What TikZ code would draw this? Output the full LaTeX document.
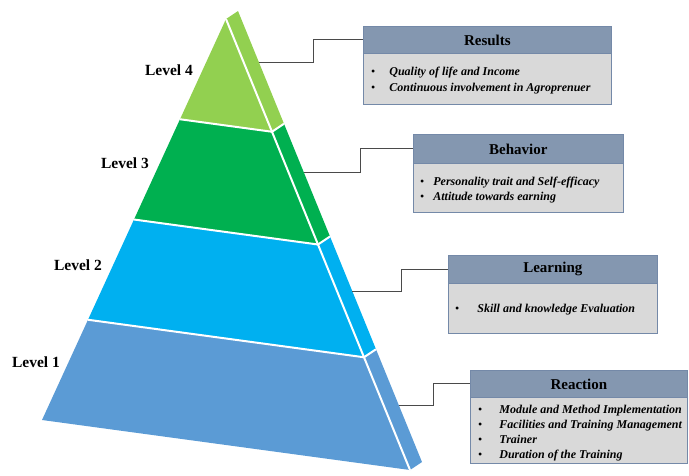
\documentclass[tikz,border=0pt]{standalone}
\usepackage{fontspec}
\setmainfont{Liberation Serif}
\usetikzlibrary{calc}

\definecolor{lvlA}{HTML}{5B9BD5}
\definecolor{lvlB}{HTML}{00B0F0}
\definecolor{lvlC}{HTML}{00B050}
\definecolor{lvlD}{HTML}{92D050}
\definecolor{hdr}{HTML}{8497B0}
\definecolor{bodyfill}{HTML}{D9D9D9}
\definecolor{edge}{HTML}{7489A8}
\definecolor{wire}{HTML}{4A4A4A}

\tikzset{
  sep/.style={white, line width=2pt, line join=round},
  conn/.style={wire, line width=0.9pt},
  hbox/.style={draw=edge, line width=0.8pt, fill=hdr, anchor=north west, inner sep=0pt,
    font=\fontsize{15}{18}\selectfont\bfseries},
  bbox/.style={draw=edge, line width=0.8pt, fill=bodyfill, anchor=north west, inner sep=0pt},
  items/.style={anchor=west, inner sep=0pt, align=left,
    font=\fontsize{12}{15.5}\selectfont\bfseries\itshape},
  lvl/.style={font=\fontsize{15.5}{18}\selectfont\bfseries}
}

\newcommand{\blt}{{\normalfont\textbullet}}

\begin{document}
\begin{tikzpicture}[x=1pt,y=-1pt]
\useasboundingbox (0,0) rectangle (689,475);

% pyramid corners: front face and the offset side strip
\coordinate (A) at (226,19);
\coordinate (L) at (42,420);
\coordinate (R) at (410,470);
\coordinate (Ad) at (238,11);
\coordinate (Rd) at (422,462);
\foreach \k/\t in {1/0.25,2/0.5,3/0.75}{
  \coordinate (L\k) at ($(A)!\t!(L)$);
  \coordinate (R\k) at ($(A)!\t!(R)$);
  \coordinate (S\k) at ($(Ad)!\t!(Rd)$);
}

% front face layers
\fill[lvlD] (A) -- (L1) -- (R1) -- cycle;
\fill[lvlC] (L1) -- (L2) -- (R2) -- (R1) -- cycle;
\fill[lvlB] (L2) -- (L3) -- (R3) -- (R2) -- cycle;
\fill[lvlA] (L3) -- (L) -- (R) -- (R3) -- cycle;
% side strip layers
\fill[lvlD] (A) -- (Ad) -- (S1) -- (R1) -- cycle;
\fill[lvlC] (R1) -- (S1) -- (S2) -- (R2) -- cycle;
\fill[lvlB] (R2) -- (S2) -- (S3) -- (R3) -- cycle;
\fill[lvlA] (R3) -- (S3) -- (Rd) -- (R) -- cycle;

% white separators
\draw[sep] (A) -- (R);
\draw[sep] (L1) -- (R1) -- (S1);
\draw[sep] (L2) -- (R2) -- (S2);
\draw[sep] (L3) -- (R3) -- (S3);

% level labels
\node[lvl] (lv4) at (169,70) {Level 4};
\node[lvl] (lv3) at (125,163) {Level 3};
\node[lvl] (lv2) at (78,265) {Level 2};
\node[lvl] (lv1) at (36,362) {Level 1};

% Results
\node[hbox, minimum width=248pt, minimum height=27pt] (resH) at (363,26) {Results};
\node[bbox, minimum width=248pt, minimum height=51pt] (resB) at (363,53) {};
\node[items] (resT) at (371,80.5) {\begin{tabular}{@{}l@{\hspace{14pt}}l@{}}
\blt & Quality of life and Income\\
\blt & Continuous involvement in Agroprenuer\end{tabular}};

% Behavior
\node[hbox, minimum width=210pt, minimum height=29pt] (behH) at (413,134) {Behavior};
\node[bbox, minimum width=210pt, minimum height=49pt] (behB) at (413,163) {};
\node[items] (behT) at (420,190) {\begin{tabular}{@{}l@{\hspace{9pt}}l@{}}
\blt & Personality trait and Self-efficacy\\
\blt & Attitude towards earning\end{tabular}};

% Learning
\node[hbox, minimum width=209pt, minimum height=28pt] (lrnH) at (448,255) {Learning};
\node[bbox, minimum width=209pt, minimum height=50pt] (lrnB) at (448,283) {};
\node[items] (lrnT) at (455,309) {\begin{tabular}{@{}l@{\hspace{18pt}}l@{}}
\blt & Skill and knowledge Evaluation\end{tabular}};

% Reaction
\node[hbox, minimum width=217pt, minimum height=27pt] (reaH) at (470,370) {Reaction};
\node[bbox, minimum width=217pt, minimum height=66pt] (reaB) at (470,397) {};
\node[items, font=\fontsize{12}{15}\selectfont\bfseries\itshape] (reaT) at (478,432.5) {\begin{tabular}{@{}l@{\hspace{17pt}}l@{}}
\blt & Module and Method Implementation\\
\blt & Facilities and Training Management\\
\blt & Trainer\\
\blt & Duration of the Training\end{tabular}};

% connectors from the side edge to the box headers
\coordinate (c4) at ($(Ad)!0.115!(Rd)$);
\coordinate (c3) at ($(Ad)!0.357!(Rd)$);
\coordinate (c2) at ($(Ad)!0.621!(Rd)$);
\coordinate (c1) at ($(Ad)!0.874!(Rd)$);
\draw[conn] (c4) -| ([xshift=-50pt]resH.west) -- (resH.west);
\draw[conn] (c3) -| ([xshift=-53pt]behH.west) -- (behH.west);
\draw[conn] (c2) -| ([xshift=-47pt]lrnH.west) -- (lrnH.west);
\draw[conn] (c1) -| ([xshift=-37pt]reaH.west) -- (reaH.west);
\end{tikzpicture}
\end{document}
